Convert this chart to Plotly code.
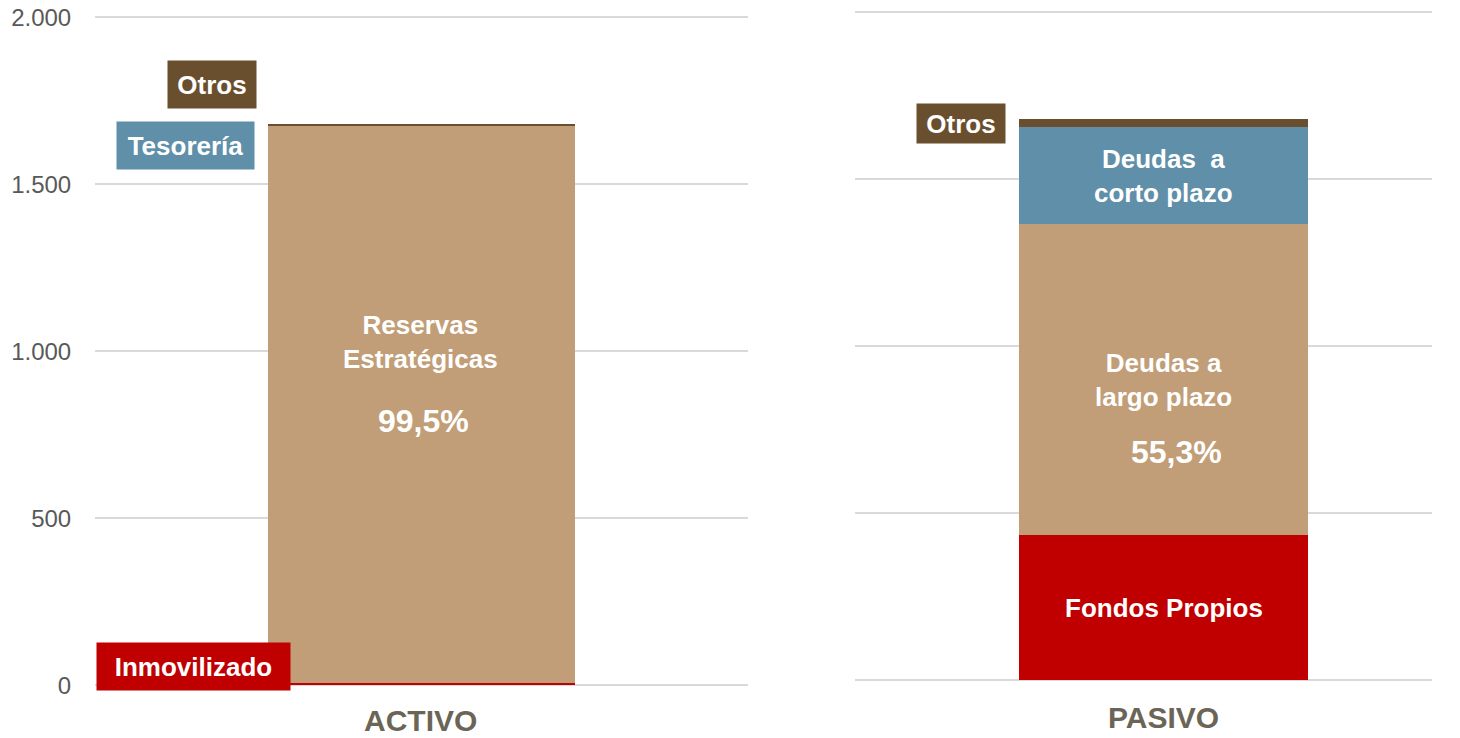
import plotly.graph_objects as go

W, H = 1460, 738

# ---- data ----
activo_cat = ["ACTIVO"]
pasivo_cat = ["PASIVO"]
activo_series = ["Inmovilizado", "Reservas Estratégicas", "Tesorería", "Otros"]
activo_values = [6, 1669, 1, 2]
pasivo_series = ["Fondos Propios", "Deudas a largo plazo", "Deudas a corto plazo", "Otros"]
pasivo_values = [434, 931, 291, 24]
reservas_pct = "99,5%"
largo_pct = "55,3%"
y_ticks = [0, 500, 1000, 1500, 2000]

RED = "#C00000"
TAN = "#C19E77"
BLUE = "#5F8FA9"
BROWN = "#6A4F2F"
seg_colors = [RED, TAN, BLUE, BROWN]

FONT = "Liberation Sans, Arial, sans-serif"

def px(x):
    return x / W

def py(y):
    return 1 - y / H

fig = go.Figure()

for name, val, col in zip(activo_series, activo_values, seg_colors):
    fig.add_trace(go.Bar(x=activo_cat, y=[val], name=name, marker=dict(color=col, line=dict(width=0)),
                         width=0.47, xaxis="x", yaxis="y", showlegend=False, hoverinfo="y+name"))
for name, val, col in zip(pasivo_series, pasivo_values, seg_colors):
    fig.add_trace(go.Bar(x=pasivo_cat, y=[val], name=name, marker=dict(color=col, line=dict(width=0)),
                         width=0.5, xaxis="x2", yaxis="y2", showlegend=False, hoverinfo="y+name"))

grid = dict(showgrid=True, gridcolor="#D9D9D9", gridwidth=2, zeroline=True, zerolinecolor="#D9D9D9",
            zerolinewidth=2, fixedrange=True)

PAD = 6  # range padding in data units so edge gridlines are fully visible
SC = 668 / 2000  # px per unit
pp = PAD * SC

fig.update_layout(
    width=W, height=H,
    margin=dict(l=0, r=0, t=0, b=0),
    paper_bgcolor="white", plot_bgcolor="white",
    barmode="stack", bargap=0,
    separators=",.",
    font=dict(family=FONT),
    xaxis=dict(domain=[px(95), px(748)], anchor="y", showticklabels=False, showgrid=False,
               zeroline=False, range=[-0.5, 0.5], automargin=False, fixedrange=True),
    yaxis=dict(domain=[py(685.5 + pp), py(17.5 - pp)], anchor="x", range=[-PAD, 2000 + PAD], tickvals=y_ticks,
               tickformat=",", ticks="outside", ticklen=18, tickcolor="rgba(0,0,0,0)",
               ticklabeloverflow="allow",
               tickfont=dict(size=24, color="#595959", family=FONT), automargin=False, **grid),
    xaxis2=dict(domain=[px(855), px(1432)], anchor="y2", showticklabels=False, showgrid=False,
                zeroline=False, range=[-0.535, 0.465], automargin=False, fixedrange=True),
    yaxis2=dict(domain=[py(680 + pp), py(12 - pp)], anchor="x2", range=[-PAD, 2000 + PAD], tickvals=y_ticks,
                showticklabels=False, automargin=False, **grid),
)

ann = []

def label(x, y, text, size=26, color="white", bg=None, w=None, h=None):
    d = dict(xref="paper", yref="paper", x=px(x), y=py(y), text=text, showarrow=False,
             font=dict(family=FONT, size=size, color=color), xanchor="center", yanchor="middle",
             align="center")
    if bg:
        d.update(bgcolor=bg, borderpad=0)
    if w:
        d["width"] = w
    if h:
        d["height"] = h
    ann.append(d)

# category titles
label(420.5, 720, "<b>%s</b>" % activo_cat[0], size=30, color="#6B6557")
label(1163.5, 717, "<b>%s</b>" % pasivo_cat[0], size=30, color="#6B6557")

# outside labels (left)
label(212, 84.5, "<b>%s</b>" % activo_series[3], bg=BROWN, w=88, h=47)
label(185.5, 145, "<b>%s</b>" % activo_series[2], bg=BLUE, w=137, h=47)
label(193.5, 666, "<b>%s</b>" % activo_series[0], bg=RED, w=193, h=47)
# outside label (right)
label(961, 123.5, "<b>%s</b>" % pasivo_series[3], bg=BROWN, w=88, h=39)

# inner labels
label(420.5, 342, "<b>Reservas<br>Estratégicas</b>", size=26)
label(424, 421, "<b>%s</b>" % reservas_pct, size=32)
label(1163.5, 176, "<b>Deudas  a<br>corto plazo</b>", size=26)
label(1163.5, 380, "<b>Deudas a<br>largo plazo</b>", size=26)
label(1176, 452, "<b>%s</b>" % largo_pct, size=32)
label(1163.5, 608, "<b>%s</b>" % pasivo_series[0], size=26)

fig.update_layout(annotations=ann)
fig.write_html("out.html", config={"displayModeBar": False},
               post_script="document.body.style.margin='0';document.body.style.overflow='hidden';")
